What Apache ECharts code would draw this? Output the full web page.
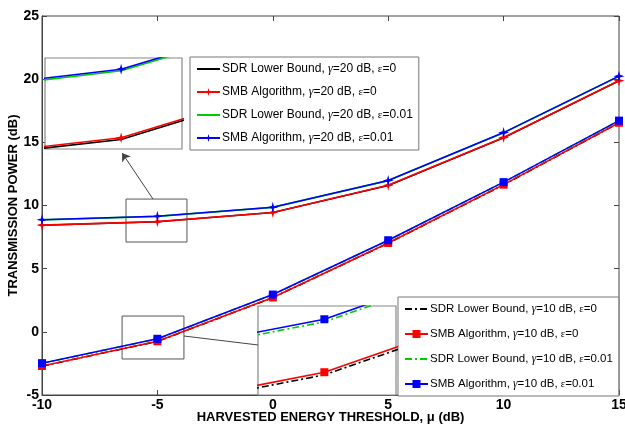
<!DOCTYPE html>
<html>
<head>
<meta charset="utf-8">
<script src="https://cdn.jsdelivr.net/npm/echarts@6/dist/echarts.min.js"></script>
<style>
  html, body { margin: 0; padding: 0; background: #fff; }
  #chart { width: 625px; height: 427px; }
</style>
</head>
<body>
<div id="chart"></div>
<script>
// harvested energy threshold mu (dB)
const mu = [-10, -5, 0, 5, 10, 15];

// gamma = 20 dB
const sdr20e0 = [8.44, 8.71, 9.44, 11.59, 15.37, 19.87];
const smb20e0 = [8.45, 8.72, 9.45, 11.60, 15.38, 19.88];
const sdr20e01 = [8.86, 9.14, 9.85, 11.97, 15.76, 20.23];
const smb20e01 = [8.87, 9.15, 9.86, 11.98, 15.77, 20.24];

// gamma = 10 dB
const sdr10e0 = [-2.71, -0.76, 2.71, 7.02, 11.64, 16.54];
const smb10e0 = [-2.70, -0.75, 2.72, 7.03, 11.65, 16.55];
const sdr10e01 = [-2.49, -0.56, 2.94, 7.24, 11.84, 16.71];
const smb10e01 = [-2.48, -0.55, 2.95, 7.25, 11.85, 16.72];

const xTicks = { min: -10, max: 15, interval: 5 };
const yTicks = { min: -5, max: 25, interval: 5 };

// zoomed views (data ranges)
const zoomTop = { x: [-6, -4.2], y: [8.65, 9.22] };
const zoomBottom = { x: [-5.125, -4.865], y: [-0.836, -0.50] };

// little boxes marking the zoomed regions and their pointers (data coords)
const boxTop = [[-6.36, 10.51], [-3.72, 7.11]];
const boxBottom = [[-6.53, 1.25], [-3.85, -2.15]];
const arrowTop = [[-5.19, 10.51], [-6.53, 14.16]];
const linkBottom = [[-3.85, -0.33], [-0.64, -1.04]];

const starPath = 'path://M5,0 L6,3.8 L10,5 L6,6.2 L5,10 L4,6.2 L0,5 L4,3.8 Z';
const font = 'Liberation Sans, Arial, sans-serif';

const names = {
  sdr20e0: 'SDR Lower Bound, {g|γ}=20 dB, {e|ε}=0',
  smb20e0: 'SMB Algorithm, {g|γ}=20 dB, {e|ε}=0',
  sdr20e01: 'SDR Lower Bound, {g|γ}=20 dB, {e|ε}=0.01',
  smb20e01: 'SMB Algorithm, {g|γ}=20 dB, {e|ε}=0.01',
  sdr10e0: 'SDR Lower Bound, {g|γ}=10 dB, {e|ε}=0',
  smb10e0: 'SMB Algorithm, {g|γ}=10 dB, {e|ε}=0',
  sdr10e01: 'SDR Lower Bound, {g|γ}=10 dB, {e|ε}=0.01',
  smb10e01: 'SMB Algorithm, {g|γ}=10 dB, {e|ε}=0.01'
};

const dashDot = [7, 3, 2, 3];
const lines = [
  { key: 'sdr20e0', y: sdr20e0, color: '#000', type: 'solid', symbol: 'none' },
  { key: 'smb20e0', y: smb20e0, color: '#ff0000', type: 'solid', symbol: starPath },
  { key: 'sdr20e01', y: sdr20e01, color: '#00cc00', type: 'solid', symbol: 'none' },
  { key: 'smb20e01', y: smb20e01, color: '#0000ff', type: 'solid', symbol: starPath },
  { key: 'sdr10e0', y: sdr10e0, color: '#000', type: dashDot, symbol: 'none' },
  { key: 'smb10e0', y: smb10e0, color: '#ff0000', type: 'solid', symbol: 'rect' },
  { key: 'sdr10e01', y: sdr10e01, color: '#00cc00', type: dashDot, symbol: 'none' },
  { key: 'smb10e01', y: smb10e01, color: '#0000ff', type: 'solid', symbol: 'rect' }
];

function pairs(ys) {
  return mu.map((x, i) => [x, ys[i]]);
}

function makeSeries(l, axisIdx, zBase) {
  return {
    name: names[l.key],
    type: 'line',
    xAxisIndex: axisIdx,
    yAxisIndex: axisIdx,
    data: pairs(l.y),
    symbol: l.symbol,
    symbolSize: l.symbol === 'rect' ? 8 : 11,
    showSymbol: l.symbol !== 'none',
    color: l.color,
    lineStyle: { color: l.color, width: 1.6, type: l.type },
    itemStyle: { color: l.color },
    clip: true,
    animation: false,
    z: zBase + lines.indexOf(l) % 2 + (l.color === '#0000ff' || l.color === '#00cc00' ? 2 : 0)
  };
}

const series = [];
lines.forEach(l => series.push(makeSeries(l, 0, 2)));
lines.forEach(l => series.push(makeSeries(l, 2, 10)));
lines.forEach(l => series.push(makeSeries(l, 3, 10)));

// annotations on main plot
series.push({
  type: 'line',
  xAxisIndex: 0,
  yAxisIndex: 0,
  data: [],
  silent: true,
  markArea: {
    silent: true,
    itemStyle: { color: 'rgba(0,0,0,0)', borderColor: '#555', borderWidth: 1 },
    data: [
      [{ coord: boxTop[0] }, { coord: boxTop[1] }],
      [{ coord: boxBottom[0] }, { coord: boxBottom[1] }]
    ]
  },
  markLine: {
    silent: true,
    animation: false,
    label: { show: false },
    lineStyle: { color: '#444', width: 1, type: 'solid' },
    symbolSize: 8,
    data: [
      [{ coord: arrowTop[0], symbol: 'none' }, { coord: arrowTop[1], symbol: 'arrow' }],
      [{ coord: linkBottom[0], symbol: 'none' }, { coord: linkBottom[1], symbol: 'none' }]
    ]
  }
});

function greek(size) {
  return {
    g: { fontFamily: 'Liberation Serif, serif', fontStyle: 'italic', fontSize: size, color: '#000', lineHeight: 14 },
    e: { fontFamily: 'Liberation Serif, serif', fontSize: size - 1, color: '#000', lineHeight: 14 }
  };
}

function legend(keys, left, top, gap, size) {
  return {
    orient: 'vertical',
    left: left,
    top: top,
    data: keys.map(k => {
      const item = { name: names[k] };
      if (k.indexOf('sdr') === 0) item.itemStyle = { opacity: 0 };
      return item;
    }),
    padding: [5, 6, 5, 6],
    itemGap: gap,
    itemWidth: 23,
    itemHeight: 10,
    backgroundColor: '#fff',
    borderColor: '#777',
    borderWidth: 1,
    selectedMode: false,
    textStyle: { fontFamily: font, fontSize: size, lineHeight: 14, color: '#000', padding: [0, 0, 0, -3], rich: greek(size) }
  };
}

const tickLabel = { fontFamily: font, fontWeight: 'bold', fontSize: 14, color: '#000' };
const titleStyle = { fontFamily: font, fontWeight: 'bold', fontSize: 13, color: '#000' };

const option = {
  backgroundColor: '#fff',
  animation: false,
  grid: [
    { left: 42, top: 16, width: 577, height: 379, outerBoundsMode: 'none', show: true, borderColor: '#444', borderWidth: 1 },
    { left: 42, top: 16, width: 577, height: 379, outerBoundsMode: 'none' },
    { left: 45, top: 58, width: 137, height: 91, outerBoundsMode: 'none', show: true, backgroundColor: '#fff', borderColor: '#888', borderWidth: 1.2, z: 3 },
    { left: 258, top: 306, width: 138, height: 89, outerBoundsMode: 'none', show: true, backgroundColor: '#fff', borderColor: '#888', borderWidth: 1.2, z: 3 }
  ],
  xAxis: [
    {
      gridIndex: 0, type: 'value', min: xTicks.min, max: xTicks.max, interval: xTicks.interval,
      splitLine: { show: false },
      axisLine: { onZero: false, lineStyle: { color: '#444' } },
      axisTick: { inside: true, length: 5, lineStyle: { color: '#444' } },
      axisLabel: Object.assign({ margin: 3 }, tickLabel),
      name: 'HARVESTED ENERGY THRESHOLD, μ (dB)',
      nameLocation: 'middle',
      nameMoveOverlap: false,
      nameGap: 16,
      nameTextStyle: titleStyle
    },
    {
      gridIndex: 1, type: 'value', position: 'top', min: xTicks.min, max: xTicks.max, interval: xTicks.interval,
      splitLine: { show: false },
      axisLine: { show: false, onZero: false },
      axisTick: { inside: true, length: 5, lineStyle: { color: '#444' } },
      axisLabel: { show: false }
    },
    { gridIndex: 2, type: 'value', min: zoomTop.x[0], max: zoomTop.x[1], show: false },
    { gridIndex: 3, type: 'value', min: zoomBottom.x[0], max: zoomBottom.x[1], show: false }
  ],
  yAxis: [
    {
      gridIndex: 0, type: 'value', min: yTicks.min, max: yTicks.max, interval: yTicks.interval,
      splitLine: { show: false },
      axisLine: { show: true, onZero: false, lineStyle: { color: '#444' } },
      axisTick: { inside: true, length: 5, lineStyle: { color: '#444' } },
      axisLabel: Object.assign({ margin: 3 }, tickLabel),
      name: 'TRANSMISSION POWER (dB)',
      nameLocation: 'middle',
      nameMoveOverlap: false,
      nameGap: 22,
      nameTextStyle: titleStyle
    },
    {
      gridIndex: 1, type: 'value', position: 'right', min: yTicks.min, max: yTicks.max, interval: yTicks.interval,
      splitLine: { show: false },
      axisLine: { show: false, onZero: false },
      axisTick: { inside: true, length: 5, lineStyle: { color: '#444' } },
      axisLabel: { show: false }
    },
    { gridIndex: 2, type: 'value', min: zoomTop.y[0], max: zoomTop.y[1], show: false },
    { gridIndex: 3, type: 'value', min: zoomBottom.y[0], max: zoomBottom.y[1], show: false }
  ],
  legend: [
    legend(['sdr20e0', 'smb20e0', 'sdr20e01', 'smb20e01'], 190, 57, 9, 12),
    legend(['sdr10e0', 'smb10e0', 'sdr10e01', 'smb10e01'], 398, 297, 11, 11.5)
  ],
  series: series
};

const chart = echarts.init(document.getElementById('chart'), null, { renderer: 'canvas' });
chart.setOption(option);
</script>
</body>
</html>
